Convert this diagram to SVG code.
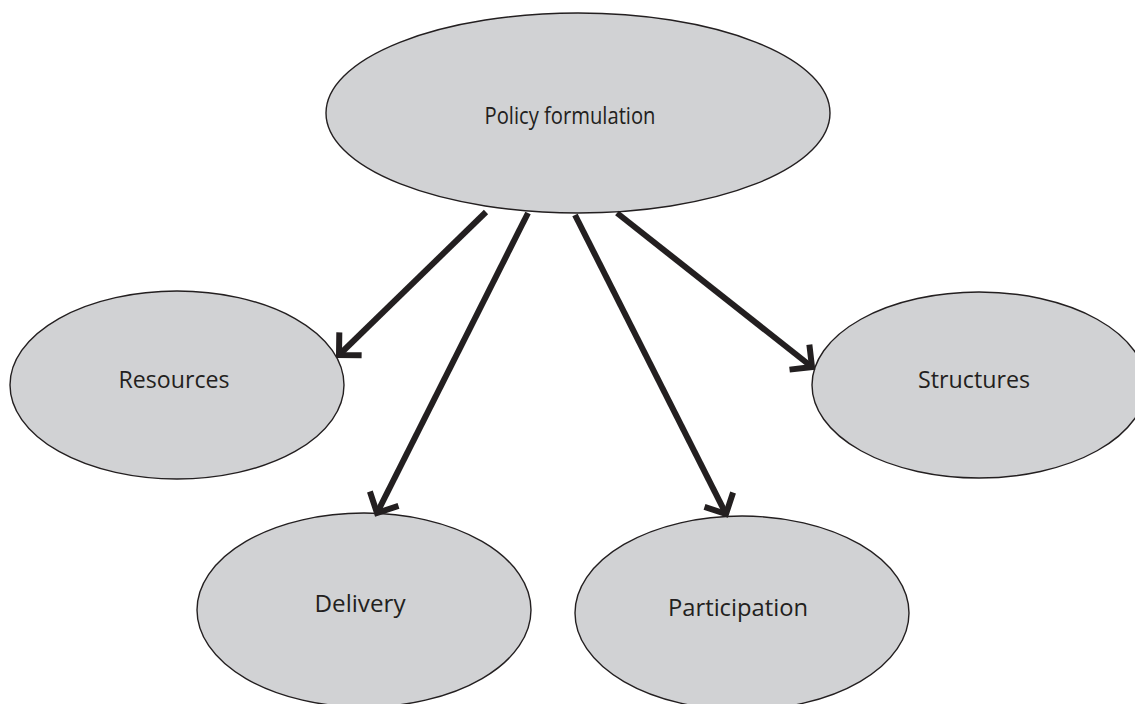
<svg xmlns="http://www.w3.org/2000/svg" width="1135" height="704" viewBox="0 0 1135 704">
<style>
.node ellipse{fill:#d1d2d4;stroke:#231f20;stroke-width:1.4}
.node text{font-family:"Open Sans","Liberation Sans",sans-serif;font-size:24px;fill:#231f20;text-anchor:middle}
.conn line{stroke:#231f20;stroke-width:6;fill:none}
</style>
<defs>
<marker id="arr" markerUnits="userSpaceOnUse" markerWidth="44" markerHeight="44" viewBox="-32 -22 38 44" refX="0" refY="0" orient="auto">
<path d="M-16,-16 L0,0 L-16,16" fill="none" stroke="#231f20" stroke-width="6" stroke-linejoin="miter"/>
</marker>
</defs>
<rect width="1135" height="704" fill="#fff"/>
<g id="policy" class="node"><ellipse cx="578" cy="113" rx="252" ry="100"/><text x="570" y="124" textLength="171" lengthAdjust="spacingAndGlyphs">Policy formulation</text></g>
<g id="resources" class="node"><ellipse cx="177" cy="385" rx="167" ry="94"/><text x="174" y="388" textLength="111" lengthAdjust="spacingAndGlyphs">Resources</text></g>
<g id="structures" class="node"><ellipse cx="979" cy="385" rx="167" ry="93"/><text x="974" y="388" textLength="112" lengthAdjust="spacingAndGlyphs">Structures</text></g>
<g id="delivery" class="node"><ellipse cx="364" cy="610" rx="167" ry="97"/><text x="360" y="612" textLength="91" lengthAdjust="spacingAndGlyphs">Delivery</text></g>
<g id="participation" class="node"><ellipse cx="742" cy="613" rx="167" ry="97"/><text x="738" y="616" textLength="140" lengthAdjust="spacingAndGlyphs">Participation</text></g>
<g id="connectors" class="conn">
<line x1="486" y1="212" x2="339" y2="355" marker-end="url(#arr)"/>
<line x1="528" y1="213" x2="377" y2="513" marker-end="url(#arr)"/>
<line x1="575" y1="215" x2="726" y2="514" marker-end="url(#arr)"/>
<line x1="617" y1="213" x2="812" y2="367" marker-end="url(#arr)"/>
</g>
</svg>
